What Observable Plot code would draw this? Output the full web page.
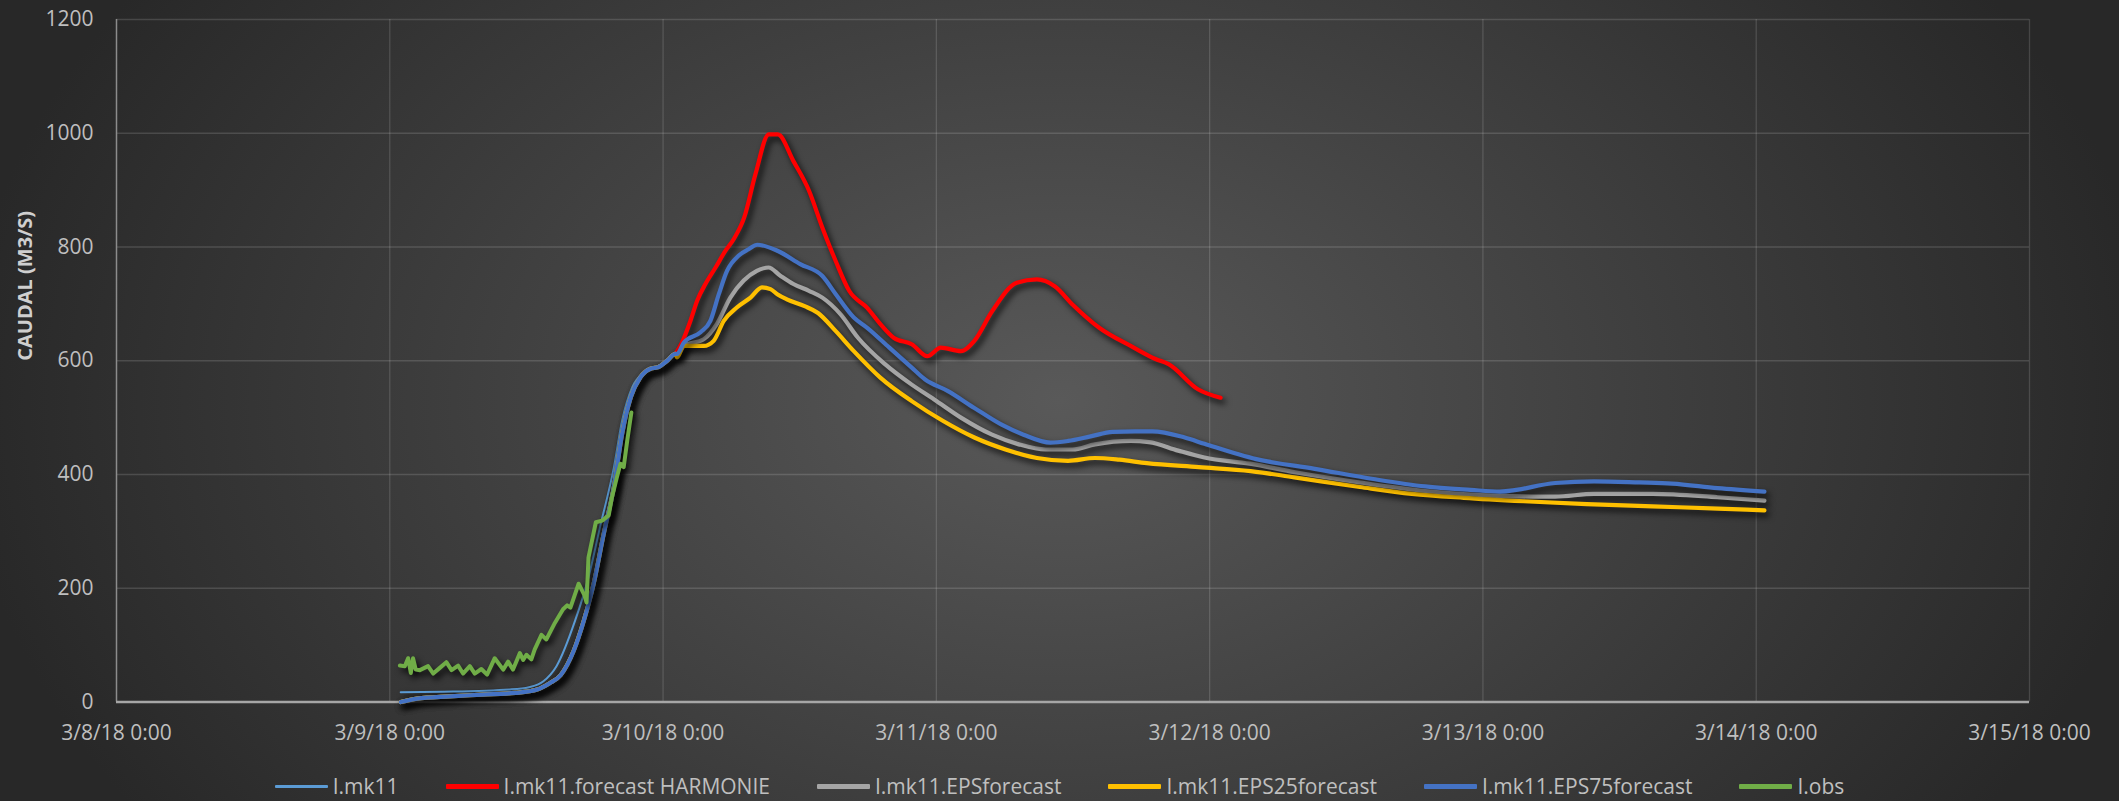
<!DOCTYPE html>
<html>
<head>
<meta charset="utf-8">
<script src="https://cdn.jsdelivr.net/npm/d3@7"></script>
<script src="https://cdn.jsdelivr.net/npm/@observablehq/plot@0.6"></script>
<style>
  html, body { margin: 0; padding: 0; width: 2119px; height: 801px; overflow: hidden; }
  body {
    background: radial-gradient(ellipse 1100px 760px at 1060px 400px, #595959 0%, #282828 100%);
    font-family: "Open Sans", sans-serif;
    position: relative;
  }
  #chart svg { display: block; background: transparent; }
  #chart svg g[aria-label="x-axis tick label"] text,
  #chart svg g[aria-label="y-axis tick label"] text { font-size: 21px; }
  #chart g[aria-label="line"] path { filter: drop-shadow(3px 4px 3px rgba(0,0,0,0.85)); }
  #legend {
    position: absolute; left: 0; top: 765px; width: 2119px; height: 42px;
    display: flex; justify-content: center; align-items: center;
    color: #bfbfbf; font-size: 21px; gap: 47px;
  }
  #legend .item { display: flex; align-items: center; white-space: nowrap; }
  #legend .sw { display: inline-block; width: 53px; margin-right: 5px; border-radius: 1px; }
</style>
</head>
<body>
<div id="chart"></div>
<div id="legend"></div>
<script>
// ---- data (x = decimal day of March 2018, y = caudal m3/s) ----
const yTitle = "CAUDAL (M3/S)";
const xTickDays = [8, 9, 10, 11, 12, 13, 14, 15];
const yTicks = [0, 200, 400, 600, 800, 1000, 1200];

const seriesNames = ["I.mk11", "I.mk11.forecast HARMONIE", "I.mk11.EPSforecast", "I.mk11.EPS25forecast", "I.mk11.EPS75forecast", "I.obs"];
const seriesColors = ["#5b9bd5", "#ff0000", "#a5a5a5", "#ffc000", "#4472c4", "#70ad47"];

const mk11Days = [9.04, 9.2, 9.44, 9.51, 9.561, 9.61, 9.678, 9.727, 9.769, 9.82, 9.85, 9.887, 9.929, 9.97, 10.0, 10.04];
const mk11Flow = [17, 18, 22, 26, 36, 63, 143, 219, 307, 412, 494, 553, 579, 588, 596, 610];

// common start shared by the EPS ensemble members
const ensembleStartDays = [9.04, 9.1, 9.22, 9.34, 9.46, 9.54, 9.585, 9.625, 9.673, 9.71, 9.746, 9.783, 9.82, 9.85, 9.882, 9.917, 9.954, 9.984, 10.015, 10.045];
const ensembleStartFlow = [0, 6, 10, 13, 16, 22, 33, 47, 90, 143, 208, 296, 378, 471, 536, 571, 586, 589, 600, 612];

const harmonieDays = [10.045, 10.069, 10.10, 10.125, 10.155, 10.192, 10.228, 10.26, 10.297, 10.338, 10.387, 10.42, 10.477, 10.534, 10.583, 10.632, 10.681, 10.747, 10.796, 10.845, 10.91, 10.967, 11.016, 11.09, 11.139, 11.204, 11.294, 11.368, 11.433, 11.498, 11.596, 11.719, 11.802, 11.85, 11.957, 12.04];
const harmonieFlow = [612, 632, 670, 706, 735, 764, 793, 815, 852, 928, 998, 998, 951, 899, 834, 775, 723, 693, 664, 640, 629, 608, 623, 617, 635, 687, 737, 743, 731, 699, 658, 624, 603, 594, 550, 535];

const epsDays = [10.051, 10.076, 10.149, 10.197, 10.246, 10.295, 10.343, 10.386, 10.428, 10.477, 10.534, 10.583, 10.649, 10.714, 10.812, 10.91, 10.992, 11.09, 11.204, 11.302, 11.4, 11.498, 11.58, 11.711, 11.778, 11.885, 11.981, 12.147, 12.313, 12.551, 12.789, 13.027, 13.264, 13.407, 13.621, 13.859, 14.03];
const epsFlow = [610, 626, 638, 665, 711, 741, 758, 764, 750, 735, 723, 711, 682, 640, 594, 558, 532, 500, 470, 453, 444, 444, 453, 459, 457, 442, 430, 419, 404, 386, 371, 363, 361, 366, 366, 360, 354];

const eps25Days = [10.051, 10.076, 10.149, 10.185, 10.222, 10.271, 10.32, 10.362, 10.393, 10.418, 10.453, 10.518, 10.567, 10.632, 10.698, 10.796, 10.91, 11.025, 11.139, 11.253, 11.368, 11.482, 11.58, 11.67, 11.77, 11.96, 12.15, 12.31, 12.55, 12.74, 12.93, 13.15, 13.38, 13.62, 13.86, 14.03];
const eps25Flow = [606, 626, 626, 635, 670, 694, 711, 729, 726, 717, 708, 696, 684, 652, 617, 570, 529, 494, 465, 444, 429, 424, 429, 426, 420, 413, 406, 395, 378, 366, 359, 353, 348, 344, 340, 337];

const eps75Days = [10.051, 10.076, 10.137, 10.173, 10.204, 10.234, 10.277, 10.313, 10.345, 10.42, 10.502, 10.583, 10.632, 10.698, 10.747, 10.828, 10.91, 10.959, 11.041, 11.139, 11.237, 11.319, 11.417, 11.482, 11.564, 11.645, 11.727, 11.79, 11.909, 11.981, 12.171, 12.385, 12.599, 12.789, 12.955, 13.062, 13.264, 13.407, 13.573, 13.692, 13.859, 14.03];
const eps75Flow = [612, 632, 650, 670, 717, 758, 785, 796, 804, 793, 770, 749, 717, 676, 658, 623, 588, 567, 547, 517, 488, 470, 456, 459, 467, 475, 476, 476, 465, 454, 427, 410, 392, 379, 373, 370, 385, 388, 386, 384, 376, 370];

const obsDays = [9.037, 9.055, 9.067, 9.077, 9.085, 9.095, 9.11, 9.14, 9.159, 9.183, 9.207, 9.226, 9.25, 9.268, 9.293, 9.311, 9.335, 9.356, 9.384, 9.415, 9.433, 9.451, 9.476, 9.488, 9.5, 9.518, 9.53, 9.555, 9.573, 9.604, 9.634, 9.649, 9.661, 9.691, 9.712, 9.72, 9.727, 9.754, 9.777, 9.801, 9.813, 9.831, 9.844, 9.856, 9.869, 9.884];
const obsFlow = [64, 63, 77, 51, 77, 57, 56, 63, 50, 60, 70, 56, 64, 50, 63, 50, 58, 48, 77, 57, 71, 57, 86, 74, 83, 75, 92, 118, 110, 139, 163, 170, 166, 208, 188, 175, 254, 316, 319, 328, 360, 395, 419, 413, 460, 509];

// ---- build ----
const toDate = d => new Date(Date.UTC(2018, 2, 1) + (d - 1) * 864e5);
const rows = (days, flow) => days.map((d, i) => ({t: toDate(d), v: flow[i]}));
const withStart = (days, flow) => rows(ensembleStartDays, ensembleStartFlow).concat(rows(days, flow));

const data = [
  rows(mk11Days, mk11Flow),
  rows(harmonieDays, harmonieFlow),
  withStart(epsDays, epsFlow),
  withStart(eps25Days, eps25Flow),
  withStart(eps75Days, eps75Flow),
  rows(obsDays, obsFlow)
];
const widths = [2, 4.2, 4.2, 4.2, 4.2, 4];
const curves = ["monotone-x", "monotone-x", "monotone-x", "monotone-x", "monotone-x", "linear"];

const xTickDates = xTickDays.map(toDate);

const chart = Plot.plot({
  width: 2119,
  height: 760,
  marginTop: 19,
  marginLeft: 116,
  marginRight: 90,
  marginBottom: 58.5,
  style: {background: "transparent", color: "#bfbfbf", fontFamily: "'Open Sans', sans-serif", fontSize: "21px"},
  x: {type: "utc", domain: [toDate(8), toDate(15)], ticks: xTickDates, tickFormat: d3.utcFormat("%-m/%-d/%y %-H:%M"), tickSize: 0, tickPadding: 23, label: null},
  y: {domain: [0, 1200], ticks: yTicks, tickFormat: d => String(d), tickSize: 0, tickPadding: 23, label: null},
  marks: [
    Plot.ruleX(xTickDates.slice(1), {stroke: "#ffffff", strokeOpacity: 0.14, strokeWidth: 1.3}),
    Plot.ruleY(yTicks.slice(1), {stroke: "#ffffff", strokeOpacity: 0.14, strokeWidth: 1.3}),
    Plot.ruleX([xTickDates[0]], {stroke: "#8c8c8c", strokeWidth: 1.5}),
    Plot.ruleY([0], {stroke: "#a6a6a6", strokeWidth: 2.5}),
    ...data.map((d, i) => Plot.line(d, {x: "t", y: "v", stroke: seriesColors[i], strokeWidth: widths[i], curve: curves[i]})),
    Plot.text([yTitle], {frameAnchor: "left", dx: -91, rotate: -90, fontWeight: "bold", fontSize: 20, fill: "#cfcfcf"})
  ]
});
document.getElementById("chart").appendChild(chart);

const legend = document.getElementById("legend");
seriesNames.forEach((name, i) => {
  const item = document.createElement("div");
  item.className = "item";
  const sw = document.createElement("span");
  sw.className = "sw";
  sw.style.background = seriesColors[i];
  sw.style.height = (i === 0 ? 3 : 5) + "px";
  const label = document.createElement("span");
  label.textContent = name;
  item.appendChild(sw);
  item.appendChild(label);
  legend.appendChild(item);
});
</script>
</body>
</html>
